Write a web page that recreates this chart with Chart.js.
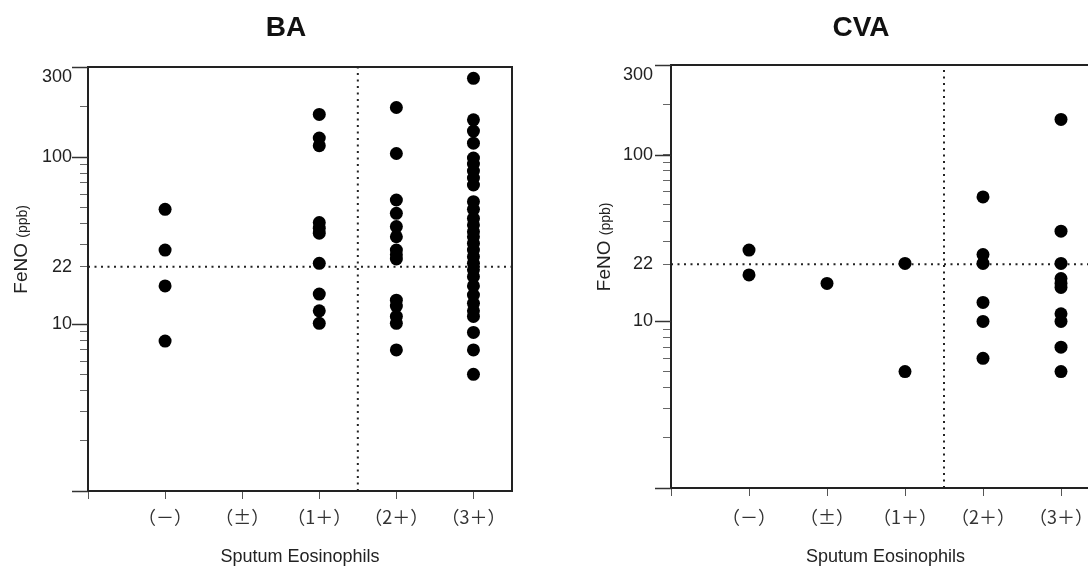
<!DOCTYPE html>
<html lang="en">
<head>
<meta charset="UTF-8">
<title>FeNO and Sputum Eosinophils</title>
<script src="https://cdn.jsdelivr.net/npm/chart.js"></script>
<style>
    body {
        margin: 0;
        background: #fff;
        overflow: hidden;
        width: 1088px;
        height: 566px;
        position: relative;
    }
    canvas {
        position: absolute;
        top: 0;
    }
    #baChart { left: 0; }
    #cvaChart { left: 583px; }
</style>
</head>
<body>

<canvas id="baChart" width="572" height="566"></canvas>
<canvas id="cvaChart" width="556" height="566"></canvas>

<script>
// sputum eosinophil grades (x categories)
const categories = ['（－）', '（±）', '（1＋）', '（2＋）', '（3＋）'];

// FeNO (ppb) per grade, BA
const baNeg = [48.6, 27.7, 16.9, 7.9];
const baPlusMinus = [];
const baOnePlus = [180, 130, 117, 40.5, 37.5, 35, 23.1, 15.1, 12.0, 10.1];
const baTwoPlus = [198, 105, 55.3, 46, 38.3, 33.3, 27.7, 26, 24.5, 13.9, 12.8, 11.1, 10.1, 7.0];
const baThreePlus = [296, 167, 143, 121, 98.6, 90.8, 82.4, 74.8, 68, 54, 48.6, 42.9, 39.2, 35.7,
                     33.3, 30.4, 27.7, 25.3, 23.1, 21.1, 19.2, 16.9, 14.9, 13.3, 12.0, 11.1, 8.9, 7.0, 5.0];

// FeNO (ppb) per grade, CVA
const cvaNeg = [26.8, 19.0];
const cvaPlusMinus = [16.9];
const cvaOnePlus = [22.3, 5.0];
const cvaTwoPlus = [55.9, 25.2, 22.3, 13.0, 10.0, 6.0];
const cvaThreePlus = [163, 34.8, 22.3, 18.1, 16.9, 16.0, 11.1, 10.0, 7.0, 5.0];

// y axis ticks
const yLabelTicks = [10, 22, 100, 300];
const yMinorTicks = [2, 3, 4, 5, 6, 7, 8, 9, 22, 30, 40, 50, 60, 70, 80, 90, 200];
const yMajorTicks = [1, 10, 100, 346];
const yMin = 1;
const yMax = 346;

// cut-off lines
const feNOCutoff = 22;
const eosCutoff = 3.5;
const xMin = 0;
const xMax = 5.5;

function toPoints(groups) {
    return groups.flatMap((vals, i) => vals.map(v => ({ x: i + 1, y: v })));
}

// frame, long ticks and the two-size y title
const framePlugin = {
    id: 'frame',
    afterDraw(chart) {
        const ctx = chart.ctx;
        const a = chart.chartArea;
        const y = chart.scales.y;
        ctx.save();
        ctx.strokeStyle = '#222';
        ctx.lineWidth = 2;
        ctx.beginPath();
        ctx.moveTo(a.left, a.top);
        ctx.lineTo(a.right, a.top);
        ctx.lineTo(a.right, a.bottom);
        ctx.stroke();

        ctx.lineWidth = 1.5;
        ctx.strokeStyle = '#333';
        yMajorTicks.forEach(v => {
            const py = Math.round(y.getPixelForValue(v)) + 0.5;
            ctx.beginPath();
            ctx.moveTo(a.left - 16, py);
            ctx.lineTo(a.left, py);
            ctx.stroke();
        });

        // y title: FeNO (ppb)
        const cy = a.top + (a.bottom - a.top) * 0.43;
        ctx.translate(20, cy);
        ctx.rotate(-Math.PI / 2);
        ctx.fillStyle = '#222';
        ctx.textBaseline = 'alphabetic';
        ctx.font = '19px "Liberation Sans", Arial, sans-serif';
        const w1 = ctx.measureText('FeNO ').width;
        ctx.font = '14px "Liberation Sans", Arial, sans-serif';
        const w2 = ctx.measureText('(ppb)').width;
        const x0 = -(w1 + w2) / 2;
        ctx.font = '19px "Liberation Sans", Arial, sans-serif';
        ctx.fillText('FeNO ', x0, 7);
        ctx.font = '14px "Liberation Sans", Arial, sans-serif';
        ctx.fillText('(ppb)', x0 + w1, 7);
        ctx.restore();
    }
};

function makeChart(id, title, groups, opt) {
    const ctx = document.getElementById(id).getContext('2d');
    return new Chart(ctx, {
        type: 'scatter',
        data: {
            datasets: [{
                data: toPoints(groups),
                backgroundColor: '#000',
                borderWidth: 0,
                pointRadius: 6.5,
                order: 0
            }, {
                type: 'line',
                data: [{ x: xMin, y: feNOCutoff }, { x: xMax, y: feNOCutoff }],
                borderColor: '#222',
                borderWidth: 2,
                borderDash: [2, 4.5],
                pointRadius: 0,
                order: 1
            }, {
                type: 'line',
                data: [{ x: eosCutoff, y: yMin }, { x: eosCutoff, y: yMax }],
                borderColor: '#222',
                borderWidth: 2,
                borderDash: [2, 4.5],
                pointRadius: 0,
                order: 1
            }]
        },
        options: {
            responsive: false,
            animation: false,
            layout: { padding: 0 },
            plugins: {
                legend: { display: false },
                tooltip: { enabled: false },
                title: {
                    display: true,
                    text: title,
                    color: '#111',
                    font: { family: '"Liberation Sans", Arial, sans-serif', size: 28, weight: 'bold', lineHeight: 1.2 },
                    padding: { top: 11, bottom: opt.titleBottom }
                }
            },
            scales: {
                x: {
                    type: 'linear',
                    min: xMin,
                    max: xMax,
                    afterBuildTicks: s => { s.ticks = [0, 1, 2, 3, 4, 5].map(v => ({ value: v })); },
                    afterFit: s => { s.height = opt.xHeight; },
                    border: { display: true, color: '#222', width: 2 },
                    grid: { drawOnChartArea: false, drawTicks: true, tickLength: 8, tickColor: '#555', tickWidth: 1 },
                    ticks: {
                        autoSkip: false,
                        maxRotation: 0,
                        padding: opt.xPad,
                        color: '#333',
                        font: { family: '"Noto Sans CJK JP", sans-serif', size: 18 },
                        callback: v => (v >= 1 ? categories[v - 1] : '')
                    },
                    title: {
                        display: true,
                        text: 'Sputum Eosinophils',
                        color: '#222',
                        font: { family: '"Liberation Sans", Arial, sans-serif', size: 18, lineHeight: 1.0 },
                        padding: 0
                    }
                },
                y: {
                    type: 'logarithmic',
                    min: yMin,
                    max: yMax,
                    afterBuildTicks: s => {
                        s.ticks = yMajorTicks.concat(yMinorTicks, [300]).sort((a, b) => a - b).map(v => ({ value: v }));
                    },
                    afterFit: s => { s.width = 88; },
                    border: { display: true, color: '#222', width: 2 },
                    grid: {
                        drawOnChartArea: false,
                        drawTicks: true,
                        tickLength: 8,
                        tickWidth: 1,
                        tickColor: c => (c.tick && c.tick.value === 300 ? 'rgba(0,0,0,0)' : '#666')
                    },
                    ticks: {
                        autoSkip: false,
                        padding: opt.yPad,
                        color: '#222',
                        font: { family: '"Liberation Sans", Arial, sans-serif', size: 18 },
                        callback: v => (yLabelTicks.includes(v) ? String(v) : '')
                    }
                },
                // empty right-hand gutter so the title stays centred on the canvas
                gutter: {
                    type: 'linear',
                    position: 'right',
                    display: true,
                    afterFit: s => { s.width = opt.padRight; },
                    border: { display: false },
                    grid: { display: false },
                    ticks: { display: false }
                }
            }
        },
        plugins: [framePlugin]
    });
}

makeChart('baChart', 'BA', [baNeg, baPlusMinus, baOnePlus, baTwoPlus, baThreePlus],
    { padRight: 60, titleBottom: 22.4, xHeight: 75, xPad: 7, yPad: 8 });
makeChart('cvaChart', 'CVA', [cvaNeg, cvaPlusMinus, cvaOnePlus, cvaTwoPlus, cvaThreePlus],
    { padRight: 39, titleBottom: 20.4, xHeight: 78, xPad: 10, yPad: 10 });
</script>
</body>
</html>
